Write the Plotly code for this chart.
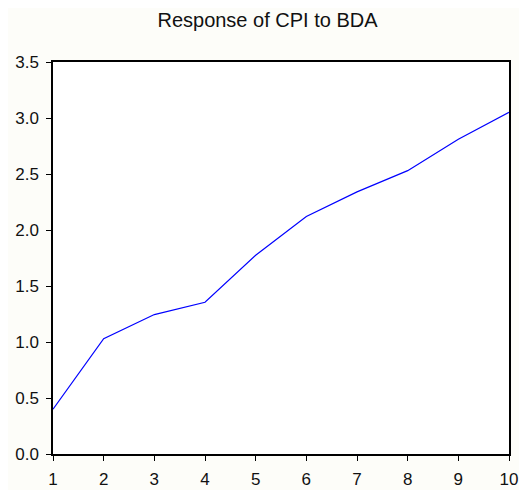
import plotly.graph_objects as go

periods = [1, 2, 3, 4, 5, 6, 7, 8, 9, 10]
response = [0.40, 1.03, 1.245, 1.355, 1.775, 2.12, 2.34, 2.53, 2.81, 3.05]
y_ticks = [0.0, 0.5, 1.0, 1.5, 2.0, 2.5, 3.0, 3.5]
y_labels = ["0.0", "0.5", "1.0", "1.5", "2.0", "2.5", "3.0", "3.5"]

W, H = 519, 482

fig = go.Figure()
fig.add_trace(go.Scatter(x=periods, y=response, mode="lines",
                         line=dict(color="#0000ff", width=1.2), showlegend=False))

fig.update_layout(
    width=W, height=H,
    margin=dict(l=45, r=18, t=54, b=36),
    paper_bgcolor="#fdfdf9", plot_bgcolor="#ffffff",
    font=dict(family="Liberation Sans, Arial", size=17, color="#111111"),
    title=dict(text="Response of CPI to BDA", x=0.5, xanchor="center",
               y=1 - 12 / H, yanchor="middle", font=dict(size=20)),
)
fig.update_xaxes(range=[1, 10], tickvals=periods, showgrid=False, zeroline=False,
                 showline=True, linecolor="black", linewidth=1.5, mirror=True,
                 ticks="outside", ticklen=5, tickcolor="black", ticklabelstandoff=4,
                 automargin=False)
fig.update_yaxes(range=[0, 3.5], tickvals=y_ticks, ticktext=y_labels, showgrid=False,
                 zeroline=False, showline=True, linecolor="black", linewidth=1.5,
                 mirror=True, ticks="outside", ticklen=5, tickcolor="black",
                 ticklabelstandoff=4, automargin=False)

fig.write_html("out.html")
